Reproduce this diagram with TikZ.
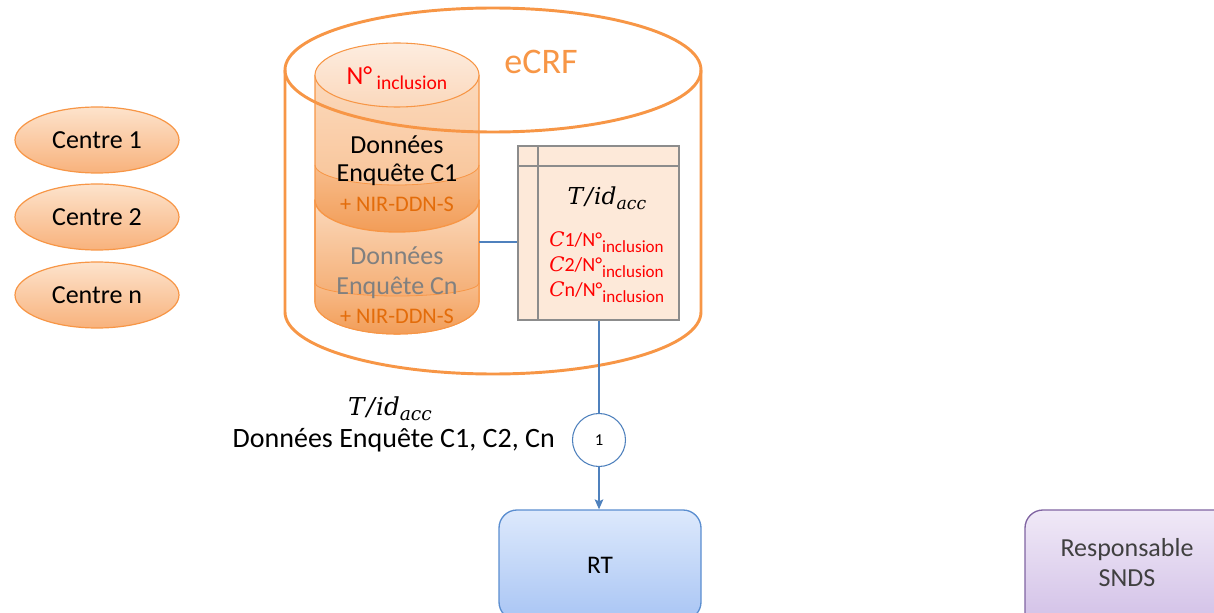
\documentclass[tikz,border=0pt]{standalone}
\usepackage{fontspec}
\setmainfont{Carlito}
\newfontfamily\formulafont{DejaVu Serif}
\usetikzlibrary{arrows.meta,shapes.geometric}

\definecolor{orangeLine}{HTML}{F79646}
\definecolor{orangeDark}{HTML}{E36C0A}
\definecolor{cylTop}{HTML}{FBD9BC}
\definecolor{cylMid}{HTML}{F8BD8C}
\definecolor{cylBot}{HTML}{F29D58}
\definecolor{capTop}{HTML}{FDEDE0}
\definecolor{capBot}{HTML}{FBD8BC}
\definecolor{centreTop}{HTML}{FDE3CC}
\definecolor{centreBot}{HTML}{F8B27C}
\definecolor{tableFill}{HTML}{FDE9D9}
\definecolor{tableLine}{HTML}{8C8C8C}
\definecolor{flowBlue}{HTML}{4F81BD}
\definecolor{rtTop}{HTML}{DDE9FC}
\definecolor{rtBot}{HTML}{A9C5F4}
\definecolor{rtLine}{HTML}{5B8ED0}
\definecolor{sndsTop}{HTML}{F0E9F7}
\definecolor{sndsBot}{HTML}{CBB7E3}
\definecolor{sndsLine}{HTML}{8064A2}
\definecolor{sndsText}{HTML}{404040}
\definecolor{greyText}{HTML}{808080}

% T/id_acc written in a serif italic, with a lowered index
\newcommand{\tidacc}[2]{{\formulafont\itshape\fontsize{#1}{#1}\selectfont T\kern0.08em/\kern0.05em id\raisebox{-0.4ex}{\fontsize{#2}{#2}\selectfont acc}}}
\newcommand{\incl}{\raisebox{-0.6ex}{\fontsize{12.8}{13}\selectfont inclusion}}
\newcommand{\centreC}{{\formulafont\itshape C}}

\begin{document}
\begin{tikzpicture}[x=0.75pt,y=-0.75pt,
  centre/.style={ellipse, draw=orangeLine, line width=0.9pt,
    top color=centreTop, bottom color=centreBot,
    minimum width=123pt, minimum height=49.5pt, inner sep=0pt,
    font=\fontsize{19.5}{22}\selectfont},
  bodytext/.style={inner sep=0pt, font=\fontsize{19.5}{22}\selectfont},
  nirtext/.style={inner sep=0pt, text=orangeDark, font=\fontsize{16.7}{18}\selectfont},
  flow/.style={draw=flowBlue, line width=1pt},
  tablebox/.style={draw=tableLine, line width=1.4pt, fill=tableFill,
    minimum width=120.75pt, minimum height=130.5pt, inner sep=0pt},
  stepmark/.style={circle, draw=flowBlue, line width=0.8pt, fill=white,
    minimum size=39.75pt, inner sep=0pt, font=\fontsize{12.5}{14}\selectfont},
  actorbox/.style={rounded corners=13.5pt, line width=1pt, inner sep=0pt},
]
\useasboundingbox (0,0) rectangle (1214,613);
\clip (0,0) rectangle (1214,613);

% ---- centres ----
\node[centre] (c1) at (97,140) {Centre 1};
\node[centre] (c2) at (97,217) {Centre 2};
\node[centre] (cn) at (97,295) {Centre n};

% ---- eCRF store: white body ----
\fill[white] (285,70) -- (285,312) arc[start angle=180,end angle=0,x radius=208,y radius=62]
  -- (701,70) arc[start angle=0,end angle=180,x radius=208,y radius=62] -- cycle;

% ---- lower stacked cylinder (centre n) ----
\path[top color=cylTop, bottom color=cylBot, draw=orangeLine, line width=0.8pt]
  (315,200) -- (315,302) arc[start angle=180,end angle=0,x radius=82,y radius=32]
  -- (479,200) -- cycle;
\path[top color=cylMid, bottom color=cylBot]
  (315,283) arc[start angle=180,end angle=0,x radius=82,y radius=13]
  -- (479,302) arc[start angle=0,end angle=180,x radius=82,y radius=32] -- cycle;
\draw[orangeLine, line width=0.6pt]
  (315,283) arc[start angle=180,end angle=0,x radius=82,y radius=13];
\draw[orangeLine, line width=0.8pt] (315,200) -- (315,302)
  arc[start angle=180,end angle=0,x radius=82,y radius=32] -- (479,200);

% ---- upper stacked cylinder (centre 1) ----
\path[top color=cylTop, bottom color=cylMid]
  (315,75) -- (315,200) arc[start angle=180,end angle=0,x radius=82,y radius=32]
  -- (479,75) -- cycle;
\path[top color=cylMid, bottom color=cylBot]
  (315,165) arc[start angle=180,end angle=0,x radius=82,y radius=20]
  -- (479,200) arc[start angle=0,end angle=180,x radius=82,y radius=32] -- cycle;
\draw[orangeLine, line width=0.6pt]
  (315,165) arc[start angle=180,end angle=0,x radius=82,y radius=20];
\draw[orangeLine, line width=1pt] (315,75) -- (315,200)
  arc[start angle=180,end angle=0,x radius=82,y radius=32] -- (479,75);
\path[top color=capTop, bottom color=capBot, draw=orangeLine, line width=0.8pt]
  (397,75) ellipse[x radius=82, y radius=32];

% ---- texts of the stacked cylinders ----
\node[inner sep=0pt, text=red] (ninc) at (397,78)
  {\fontsize{19.5}{20}\selectfont N°\,\raisebox{-0.45ex}{\fontsize{14.7}{16}\selectfont inclusion}};
\node[bodytext] (d1a) at (397,145) {Données};
\node[bodytext] (d1b) at (397,175) {Enquête C1};
\node[nirtext] (nir1) at (397,204) {+ NIR-DDN-S};
\node[bodytext, text=greyText] (dna) at (397,256) {Données};
\node[bodytext, text=greyText] (dnb) at (397,288) {Enquête Cn};
\node[nirtext] (nirn) at (397,316) {+ NIR-DDN-S};
\coordinate (cylR) at (479,242);

% ---- eCRF store: outline ----
\draw[orangeLine, line width=2.2pt] (285,70) -- (285,312)
  arc[start angle=180,end angle=0,x radius=208,y radius=62] -- (701,70);
\draw[orangeLine, line width=2.2pt] (493,70) ellipse[x radius=208, y radius=62];
\node[inner sep=0pt, text=orangeLine, font=\fontsize{27}{30}\selectfont] (ecrf) at (541,62) {eCRF};

% ---- correspondence table ----
\node[tablebox] (tbl) at (598.5,233) {};
\draw[tableLine, line width=1.4pt] ([xshift=15.75pt]tbl.north west) -- ([xshift=15.75pt]tbl.south west);
\draw[tableLine, line width=1.4pt] ([yshift=-15.75pt]tbl.north west) -- ([yshift=-15.75pt]tbl.north east);
\node[inner sep=0pt] (tid) at (607,198) {\tidacc{17.5}{13}};
\node[inner sep=0pt, anchor=west, text=red, align=left, font=\fontsize{15}{18.75}\selectfont] (tlist) at (549,267)
  {\centreC1/N°\incl\\
   \centreC2/N°\incl\\
   \centreC n/N°\incl};

% ---- flow ----
\node[stepmark] (step1) at (599,440) {1};
\node[actorbox, draw=rtLine, top color=rtTop, bottom color=rtBot,
  minimum width=151.5pt, minimum height=82.5pt,
  font=\fontsize{19}{22}\selectfont] (rt) at (600,565) {RT};
\draw[flow] (cylR) -- (cylR -| tbl.west);
\draw[flow] (tbl.south -| step1.north) -- (step1.north);
\draw[flow, -{Stealth[length=7.5pt,width=6.5pt,inset=1.5pt]}] (step1.south) -- (rt.north -| step1.south);

\node[inner sep=0pt] (lblid) at (390,409) {\tidacc{18.5}{14}};
\node[inner sep=0pt, anchor=east, font=\fontsize{21}{24}\selectfont] (lbldata) at (555,440) {Données Enquête C1, C2, Cn};

% ---- SNDS manager ----
\path[actorbox, draw=sndsLine, top color=sndsTop, bottom color=sndsBot]
  (1025,510) rectangle (1240,650);
\node[inner sep=0pt, align=center, text=sndsText, font=\fontsize{19.5}{22.5}\selectfont] (snds) at (1127,563) {Responsable\\SNDS};
\end{tikzpicture}
\end{document}
